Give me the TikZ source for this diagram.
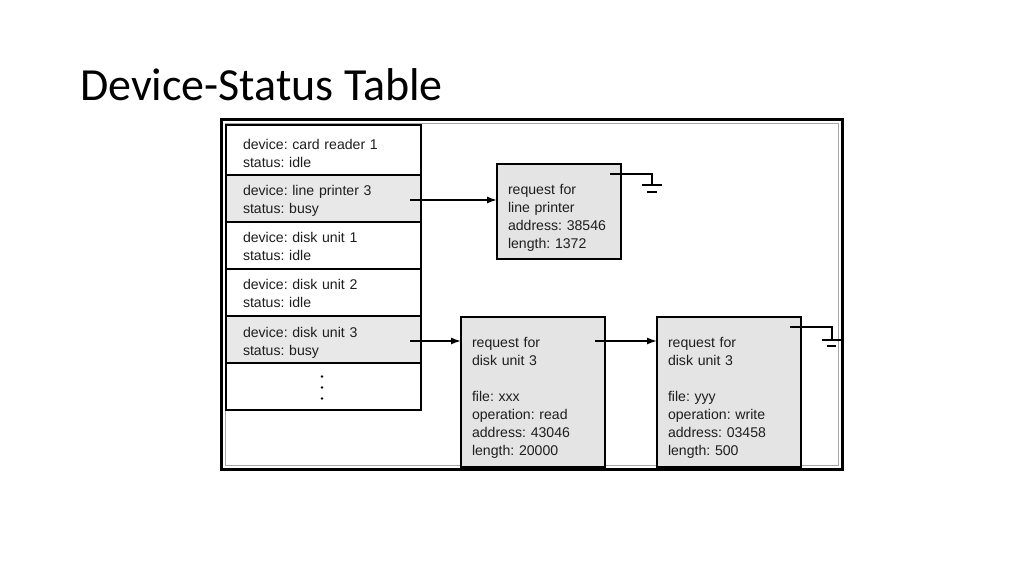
\documentclass[tikz,border=0pt]{standalone}
\usepackage{fontspec}
\setmainfont{Liberation Sans}
\newfontfamily\titlefont{Carlito}
\usetikzlibrary{arrows.meta,calc}
\definecolor{rowgray}{HTML}{E8E8E8}
\definecolor{boxgray}{HTML}{E4E4E4}
\definecolor{txtc}{HTML}{1E1E1E}
\frenchspacing
\begin{document}
\begin{tikzpicture}[x=1pt,y=-1pt,
  every node/.style={inner ysep=0pt, outer sep=0pt},
  rowbox/.style={draw=black, line width=1.2pt, anchor=north west, minimum width=195pt,
    inner xsep=17pt, text width=161pt, align=left, text=txtc,
    font=\fontsize{14.1}{18}\selectfont\frenchspacing},
  rowtxt/.style={execute at begin node={\rule{0pt}{#1}}, execute at end node={\rule[-3pt]{0pt}{3pt}}},
  reqbox/.style={draw=black, line width=1.2pt, fill=boxgray, anchor=north west,
    inner xsep=11pt, align=left, text=txtc, font=\fontsize{14.1}{18}\selectfont\frenchspacing,
    execute at begin node={\rule{0pt}{#1}}, execute at end node={\rule[-4pt]{0pt}{4pt}}},
  arr/.style={line width=1.5pt, -{Latex[length=10pt,width=7pt]}},
  wire/.style={line width=2pt},
  gbar/.style={line width=2pt},
  gbarb/.style={line width=2.6pt}]
\useasboundingbox[fill=white] (0,0) rectangle (1024,576);
% title
\node[anchor=base west, inner sep=0pt, font=\titlefont\fontsize{46}{54}\selectfont] (title) at (80,100) {Device-Status Table};
% frame
\draw[line width=3pt] (221.5,119.5) rectangle (842.5,469.5);
\draw[line width=1pt, gray!70] (225.5,123.5) rectangle (838.5,465.5);
% table
\node[rowbox, rowtxt=19pt, minimum height=50pt] (r1) at (226,125) {device: card reader 1\\status: idle};
\node[rowbox, rowtxt=15pt, fill=rowgray, minimum height=47pt] (r2) at (226,175) {device: line printer 3\\status: busy};
\node[rowbox, rowtxt=15pt, minimum height=47pt] (r3) at (226,222) {device: disk unit 1\\status: idle};
\node[rowbox, rowtxt=15pt, minimum height=47pt] (r4) at (226,269) {device: disk unit 2\\status: idle};
\node[rowbox, rowtxt=16pt, fill=rowgray, minimum height=47pt] (r5) at (226,316) {device: disk unit 3\\status: busy};
\node[rowbox, minimum height=47pt] (r6) at (226,363) {};
\foreach \dy in {-10,1,12} \fill[black] ($(r6.center)+(-1.5,\dy)$) circle (1.3pt);
% request boxes
\node[reqbox=24pt, minimum width=124pt, minimum height=95pt, text width=102pt] (lp) at (497,164)
  {request for\\line printer\\address: 38546\\length: 1372};
\node[reqbox=22pt, minimum width=144pt, minimum height=150pt, text width=122pt] (d1) at (461,317)
  {request for\\disk unit 3\\[18pt]file: xxx\\operation: read\\address: 43046\\length: 20000};
\node[reqbox=22pt, minimum width=144pt, minimum height=150pt, text width=122pt] (d2) at (657,317)
  {request for\\disk unit 3\\[18pt]file: yyy\\operation: write\\address: 03458\\length: 500};
% arrows
\draw[arr] ($(r2.east)+(-11,1.5)$) coordinate (a1s) -- (a1s -| lp.west);
\draw[arr] ($(r5.east)+(-11,1.5)$) coordinate (a2s) -- (a2s -| d1.west);
\draw[arr] ($(d1.east |- a2s)+(-10,0)$) coordinate (a3s) -- (a3s -| d2.west);
% grounds
\coordinate (g1s) at ($(lp.north east)+(-11,10)$);
\coordinate (g1c) at ($(g1s)+(42,0)$);
\coordinate (g1b) at ($(g1c)+(0,11)$);
\draw[wire] (g1s) -- (g1c) -- (g1b);
\draw[gbar] ($(g1b)+(-10,0)$) -- ($(g1b)+(10,0)$);
\draw[gbarb] ($(g1b)+(-5,7)$) -- ($(g1b)+(5,7)$);
\coordinate (g2s) at ($(d2.north east)+(-11,10)$);
\coordinate (g2c) at ($(g2s)+(42,0)$);
\coordinate (g2b) at ($(g2c)+(0,13)$);
\draw[wire] (g2s) -- (g2c) -- (g2b);
\draw[gbar] ($(g2b)+(-10,0)$) -- ($(g2b)+(9,0)$);
\draw[gbarb] ($(g2b)+(-5,6)$) -- ($(g2b)+(4,6)$);
\end{tikzpicture}
\end{document}
